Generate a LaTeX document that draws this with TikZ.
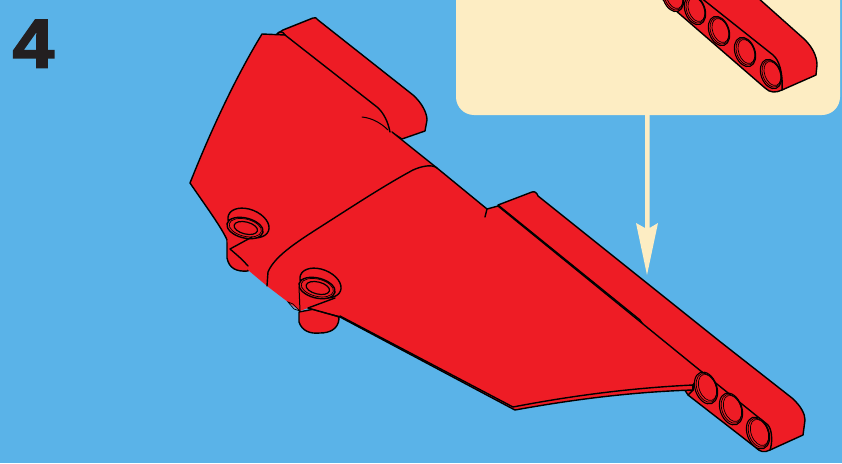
\documentclass[tikz,border=0pt]{standalone}
\usepackage{fontspec}
\setmainfont{Liberation Sans}
\newfontfamily\stepfont[BoldFeatures={FakeBold=2.5}]{Liberation Sans}
\definecolor{skyb}{HTML}{5AB3E8}
\definecolor{legored}{HTML}{EE1C25}
\definecolor{creamy}{HTML}{FDEDC3}
\definecolor{inkk}{HTML}{231F20}
\tikzset{
  edge/.style={draw=black,line width=1.4pt,line join=round,line cap=round},
  fine/.style={draw=black,line width=0.7pt,line cap=round},
  body/.style={fill=legored,edge},
}
\newcommand{\beamhole}[3][1]{%
  \begin{scope}[shift={(#2,#3)},rotate=20,scale=#1]
    \draw[edge,line width=1.1pt,fill=legored] (0,0) ellipse [x radius=10.8,y radius=16.5];
    \draw[fine] (0.6,0) ellipse [x radius=9.6,y radius=15];
    \draw[fine] (1.6,0) ellipse [x radius=8.4,y radius=13.6];
  \end{scope}}
\newcommand{\studhole}[2]{%
  \begin{scope}[shift={(#1,#2)}]
    \draw[edge] (3.5,-5) ellipse [x radius=21.5,y radius=13.5,rotate=-22];
    \draw[edge,fill=legored] (0,0) ellipse [x radius=18.5,y radius=10,rotate=-14];
    \draw[fine] (0.3,-0.3) ellipse [x radius=16.5,y radius=8.6,rotate=-14];
    \draw[edge,line width=1.2pt] (0.8,0) ellipse [x radius=12,y radius=6,rotate=-14];
  \end{scope}}
\begin{document}
\begin{tikzpicture}[x=1pt,y=-1pt]
\useasboundingbox (0,0) rectangle (842,463);
\clip (0,0) rectangle (842,463);
\fill[skyb] (0,0) rectangle (842,463);
% panel
\fill[creamy,rounded corners=18pt] (456,-40) -- (456,115) -- (840,115) -- (840,-40) -- cycle;
% arrow
\fill[creamy] (645,113) -- (649.5,113) -- (649.5,228) -- (658,223) -- (647,275) -- (636,223) -- (645,228) -- cycle;
% inset beam
\draw[body] (757,-3) -- (803,38) .. controls (812,46) and (817,56) .. (817,65) -- (816,75)
  -- (782,90) .. controls (776,93) and (770,93) .. (765,88) -- (660,-3) -- cycle;
\draw[edge] (700,-3) -- (773,55) .. controls (779,60) and (783,72) .. (782,90);
\beamhole[0.92]{673}{-3}
\beamhole[0.92]{695}{10}
\beamhole[0.92]{719}{31}
\beamhole[0.92]{745}{52}
\beamhole[0.92]{771}{74}
% upper back beam
\draw[body] (277,34) -- (283,30) -- (313,18) .. controls (315,17) and (317,18) .. (318,20)
  -- (413,95) .. controls (422,103) and (427,113) .. (427,120) -- (425,131) -- (402,139) -- (380,125) -- cycle;
% studs below
\draw[body] (227,240) -- (227,258) .. controls (229,268) and (236,272) .. (248,271) -- (252,250) -- cycle;
\draw[body] (299,312) -- (299,322) .. controls (302,331) and (310,334) .. (320,333) .. controls (330,333) and (338,329) .. (339,319) -- (335,305) -- cycle;
% lower beam behind
\draw[body] (532,192) .. controls (535,191) and (537,193) .. (538,196) -- (718,340) -- (792,398)
  .. controls (801,406) and (805,414) .. (805,420) -- (803,435) -- (770,450)
  .. controls (764,453) and (760,452) .. (755,447) -- (688,395) -- (640,320) -- (498,205) -- cycle;
% strip under main body
\draw[body] (308,308) -- (340,317) -- (513,409) -- (515,410) .. controls (570,400) and (630,392) .. (693,390) -- (693,380) -- (500,350) -- cycle;
% main body fill, unstroked
\fill[legored] (190,183) .. controls (215,120) and (240,70) .. (262,34) -- (285,35)
  -- (377,107) -- (392,132) -- (437,168) -- (487,209) -- (498,206) -- (702,372) -- (693,385)
  .. controls (630,388) and (570,396) .. (513,407) -- (340,316) -- (308,308) -- (300,311) -- (288,302) -- (267,286)
  -- (248,270) -- (230,249) -- (227,240) .. controls (222,228) and (205,205) .. (190,183) -- cycle;
% main body strokes
\draw[edge] (227,240) .. controls (222,228) and (205,205) .. (190,183) .. controls (215,120) and (240,70) .. (262,34) -- (285,35);
\draw[edge] (392,132) -- (437,168) -- (487,209) -- (498,206);
\draw[edge] (693,385) .. controls (630,388) and (570,396) .. (513,407) -- (340,316);
\draw[edge] (277,34) .. controls (279,31) and (283,31) .. (285,35);
\draw[edge] (285,35) -- (377,107) .. controls (384,113) and (388,122) .. (390,132);
\draw[fine,line width=1pt] (362,117) .. controls (372,118) and (381,123) .. (388,130);
\draw[edge] (487,209) -- (485,217);
% seam
\draw[edge] (437,168) .. controls (432,164) and (422,166) .. (413,170)
  .. controls (385,185) and (350,208) .. (328,222)
  .. controls (300,240) and (275,255) .. (268,272) -- (267,286);
% long ridge
\draw[edge] (498,206) -- (702,372);
% end of lower beam face
\draw[edge] (702,372) -- (768,425) .. controls (773,431) and (772,445) .. (770,450);
\draw[edge] (693,385) -- (702,372);
\draw[edge] (693,390) -- (688,395);
\draw[edge] (693,385) -- (693,390);
\beamhole{706}{388}
\beamhole{731}{409}
\beamhole{758}{433}
% stud tops
\studhole{245}{228}
\draw[edge] (252,237) -- (230,249) .. controls (237,255) and (243,260) .. (248,266);
\studhole{317}{288}
\draw[edge] (335,298) -- (308,308) -- (340,317);
\draw[fine,line width=1pt] (299,287) -- (300,311);
\draw[fine] (288,302) -- (294,309) -- (300,311) -- (293,304) -- cycle;
% step number
\node[anchor=base west,inner sep=0pt,text=inkk,xscale=1.08,font=\stepfont\fontsize{69}{69}\selectfont\bfseries] (stepnum) at (12.5,67.5) {4};
\end{tikzpicture}
\end{document}
